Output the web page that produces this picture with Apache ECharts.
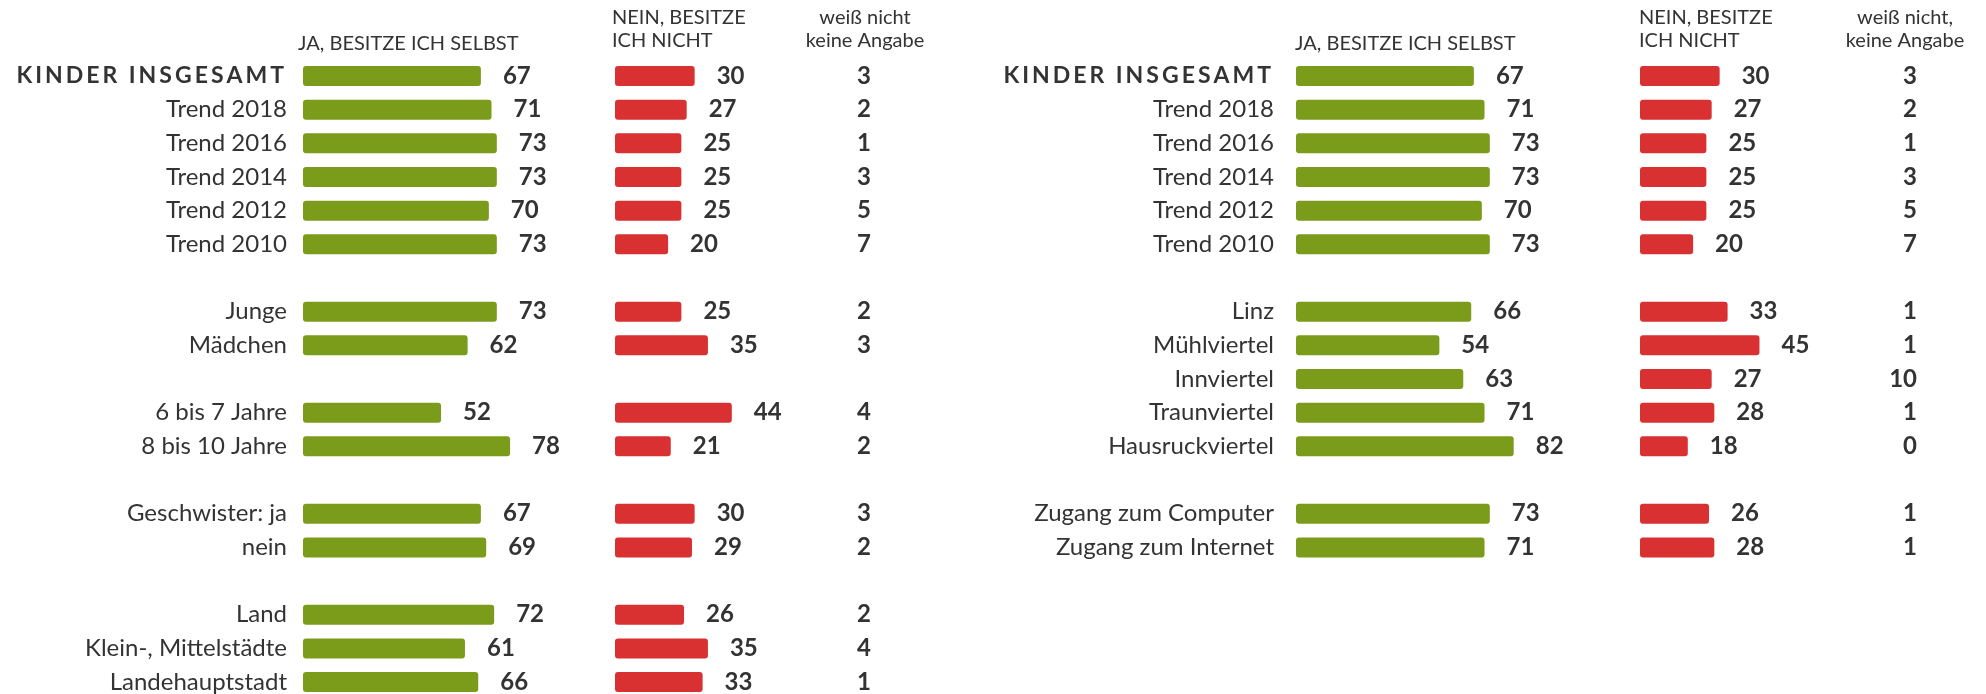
<!DOCTYPE html>
<html>
<head>
<meta charset="utf-8">
<script src="https://cdn.jsdelivr.net/npm/echarts@6/dist/echarts.min.js"></script>
<style>
  html, body { margin: 0; padding: 0; background: #fff; }
  #chart { width: 1986px; height: 694px; }
</style>
</head>
<body>
<div id="chart"></div>
<script>
// Linke Tafel
var leftCats = ['KINDER INSGESAMT', 'Trend 2018', 'Trend 2016', 'Trend 2014', 'Trend 2012', 'Trend 2010', '',
    'Junge', 'Mädchen', '', '6 bis 7 Jahre', '8 bis 10 Jahre', '', 'Geschwister: ja', 'nein', '',
    'Land', 'Klein-, Mittelstädte', 'Landehauptstadt'];
var leftJa   = [67, 71, 73, 73, 70, 73, null, 73, 62, null, 52, 78, null, 67, 69, null, 72, 61, 66];
var leftNein = [30, 27, 25, 25, 25, 20, null, 25, 35, null, 44, 21, null, 30, 29, null, 26, 35, 33];
var leftDk   = [3, 2, 1, 3, 5, 7, null, 2, 3, null, 4, 2, null, 3, 2, null, 2, 4, 1];

// Rechte Tafel
var rightCats = ['KINDER INSGESAMT', 'Trend 2018', 'Trend 2016', 'Trend 2014', 'Trend 2012', 'Trend 2010', '',
    'Linz', 'Mühlviertel', 'Innviertel', 'Traunviertel', 'Hausruckviertel', '',
    'Zugang zum Computer', 'Zugang zum Internet'];
var rightJa   = [67, 71, 73, 73, 70, 73, null, 66, 54, 63, 71, 82, null, 73, 71];
var rightNein = [30, 27, 25, 25, 25, 20, null, 33, 45, 27, 28, 18, null, 26, 28];
var rightDk   = [3, 2, 1, 3, 5, 7, null, 1, 1, 10, 1, 0, null, 1, 1];

var GREEN = '#7b9b1b';
var RED = '#d93131';
var TXT = '#333333';
var FONT = 'Lato';

var ROW = 33.67;      // Zeilenabstand
var TOP = 76 - ROW / 2;
var SCALE_W = 265.5;  // Breite fuer 0..100

var chart = echarts.init(document.getElementById('chart'));

var grids = [], xAxes = [], yAxes = [], series = [];

function panel(cats, ja, nein, dk, pos) {
    var h = cats.length * ROW;
    var g0 = grids.length;
    grids.push({ left: pos.green, top: TOP, width: SCALE_W, height: h, outerBoundsMode: 'none' });
    grids.push({ left: pos.red, top: TOP, width: SCALE_W, height: h, outerBoundsMode: 'none' });
    grids.push({ left: pos.dk, top: TOP, width: 40, height: h, outerBoundsMode: 'none' });

    for (var i = 0; i < 3; i++) {
        xAxes.push({ gridIndex: g0 + i, type: 'value', min: 0, max: 100, show: false });
        yAxes.push({
            gridIndex: g0 + i,
            type: 'category',
            inverse: true,
            data: cats,
            axisLine: { show: false },
            axisTick: { show: false },
            splitLine: { show: false },
            axisLabel: {
                show: i !== 1,
                margin: i === 0 ? pos.margin : 0,
                fontFamily: FONT,
                fontSize: 24,
                color: TXT,
                fontWeight: i === 2 ? 'bold' : 'normal',
                formatter: i === 2 ? function (v, idx) {
                    return dk[idx] == null ? '' : String(dk[idx]);
                } : function (v) {
                    if (v === 'KINDER INSGESAMT') {
                        return v.split('').map(function (c) { return '{k|' + c + '}'; }).join('');
                    }
                    return v;
                },
                rich: {
                    k: { fontFamily: FONT, fontSize: 23, fontWeight: 'bold', color: TXT, padding: [0, 3, 0, 0] }
                }
            }
        });
    }

    var lbl = { show: true, position: 'right', distance: 22, fontFamily: FONT, fontSize: 24, fontWeight: 'bold', color: TXT };
    series.push({
        type: 'bar', xAxisIndex: g0, yAxisIndex: g0, data: ja, barWidth: 20,
        itemStyle: { color: GREEN, borderRadius: 3 }, label: lbl
    });
    series.push({
        type: 'bar', xAxisIndex: g0 + 1, yAxisIndex: g0 + 1, data: nein, barWidth: 20,
        itemStyle: { color: RED, borderRadius: 3 }, label: lbl
    });
}

panel(leftCats, leftJa, leftNein, leftDk, { green: 303, red: 615, dk: 871, margin: 16 });
panel(rightCats, rightJa, rightNein, rightDk, { green: 1296, red: 1640, dk: 1917, margin: 22 });

function head(text, left, top, align) {
    return {
        text: text, left: left, top: top, padding: 0, textAlign: align || 'left',
        textStyle: { fontFamily: FONT, fontSize: 20, fontWeight: 'normal', color: TXT, lineHeight: 23 }
    };
}

var option = {
    animation: false,
    backgroundColor: '#ffffff',
    title: [
        head('JA, BESITZE ICH SELBST', 298, 32),
        head('NEIN, BESITZE\nICH NICHT', 612, 6),
        head('weiß nicht\nkeine Angabe', 865, 6, 'center'),
        head('JA, BESITZE ICH SELBST', 1295, 32),
        head('NEIN, BESITZE\nICH NICHT', 1639, 6),
        head('weiß nicht,\nkeine Angabe', 1905, 6, 'center')
    ],
    grid: grids,
    xAxis: xAxes,
    yAxis: yAxes,
    series: series
};

chart.setOption(option);
</script>
</body>
</html>
